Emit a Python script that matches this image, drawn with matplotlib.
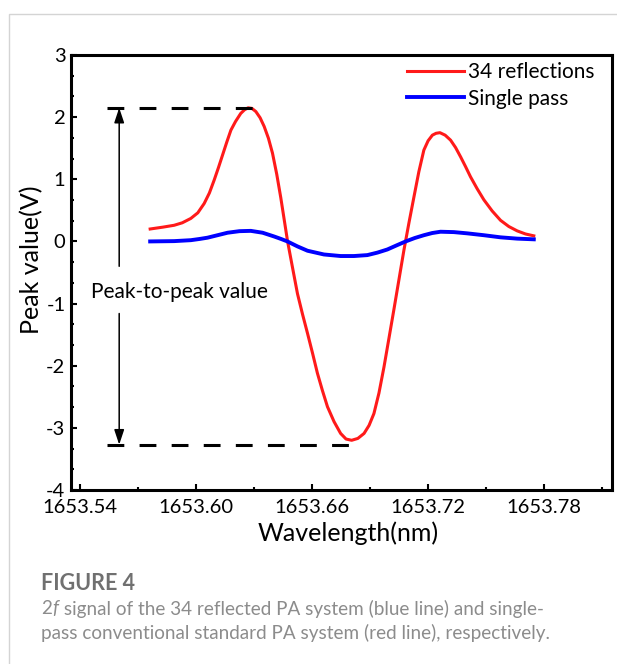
import matplotlib
matplotlib.use('Agg')
import matplotlib.pyplot as plt
from matplotlib.patches import Rectangle
from matplotlib.ticker import MultipleLocator

plt.rcParams['font.family'] = ['Lato', 'DejaVu Sans']
plt.rcParams['axes.unicode_minus'] = False

# 34 reflections (red)
red_wl = [1653.5764, 1653.5830, 1653.5888, 1653.5930, 1653.5974, 1653.6010, 1653.6043,
          1653.6070, 1653.6095, 1653.6117, 1653.6138, 1653.6160, 1653.6181, 1653.6205,
          1653.6232, 1653.6252, 1653.6270, 1653.6290, 1653.6310, 1653.6332, 1653.6353,
          1653.6375, 1653.6396, 1653.6418, 1653.6439, 1653.6456, 1653.6474, 1653.6500,
          1653.6525, 1653.6551, 1653.6577, 1653.6603, 1653.6628, 1653.6654, 1653.6680,
          1653.6714, 1653.6748, 1653.6776, 1653.6805, 1653.6837, 1653.6869, 1653.6895,
          1653.6920, 1653.6946, 1653.6972, 1653.6997, 1653.7023, 1653.7049, 1653.7075,
          1653.7101, 1653.7127, 1653.7152, 1653.7178, 1653.7200, 1653.7222, 1653.7241,
          1653.7261, 1653.7288, 1653.7316, 1653.7342, 1653.7368, 1653.7394, 1653.7419,
          1653.7453, 1653.7488, 1653.7531, 1653.7574, 1653.7617, 1653.7660, 1653.7703,
          1653.7746]
red_v = [0.20, 0.23, 0.26, 0.30, 0.37, 0.46, 0.61, 0.78, 0.99, 1.19, 1.39, 1.60, 1.79,
         1.93, 2.06, 2.12, 2.15, 2.14, 2.09, 1.99, 1.85, 1.66, 1.42, 1.08, 0.70, 0.36,
         0.0, -0.43, -0.84, -1.17, -1.48, -1.80, -2.12, -2.40, -2.66, -2.90, -3.09, -3.18,
         -3.20, -3.17, -3.09, -2.96, -2.77, -2.44, -2.02, -1.57, -1.10, -0.62, -0.14,
         0.30, 0.72, 1.12, 1.47, 1.62, 1.71, 1.74, 1.75, 1.71, 1.63, 1.51, 1.36, 1.20,
         1.04, 0.85, 0.67, 0.49, 0.34, 0.24, 0.17, 0.12, 0.09]

# single pass (blue)
blue_wl = [1653.5764, 1653.5888, 1653.5974, 1653.6020, 1653.6060, 1653.6112, 1653.6164,
           1653.6225, 1653.6284, 1653.6345, 1653.6404, 1653.6440, 1653.6473, 1653.6525,
           1653.6577, 1653.6662, 1653.6748, 1653.6817, 1653.6886, 1653.6938, 1653.6989,
           1653.7036, 1653.7084, 1653.7131, 1653.7178, 1653.7221, 1653.7264, 1653.7333,
           1653.7402, 1653.7488, 1653.7574, 1653.7660, 1653.7746]
blue_v = [0.00, 0.005, 0.02, 0.04, 0.06, 0.10, 0.14, 0.165, 0.17, 0.14, 0.08, 0.04, 0.0,
          -0.08, -0.15, -0.21, -0.235, -0.235, -0.22, -0.18, -0.13, -0.065, 0.0, 0.055,
          0.10, 0.135, 0.156, 0.15, 0.13, 0.10, 0.066, 0.045, 0.034]

pp_top = 2.15
pp_bottom = -3.27

fig = plt.figure(figsize=(6.17, 6.64), dpi=100)

# light frame around the panel
fig.patches.append(Rectangle((9 / 617, -0.1), 1.2, (664 - 14) / 664 + 0.1,
                             transform=fig.transFigure, fill=False,
                             edgecolor='#d4d4d4', lw=1.0))

ax = fig.add_axes([71 / 617, 174 / 664, 541 / 617, 435 / 664])

ax.plot(red_wl, red_v, color='#ff1a1a', lw=2.2, label='34 reflections')
ax.plot(blue_wl, blue_v, color='#0000ff', lw=2.8, label='Single pass')

# dashed guide lines and the peak-to-peak arrows
ax.plot([1653.5541, 1653.6294], [pp_top, pp_top], color='k', lw=2.2, ls=(0, (5.5, 5)))
ax.plot([1653.5541, 1653.6790], [pp_bottom, pp_bottom], color='k', lw=2.2, ls=(0, (5.5, 5)))
arr = dict(arrowstyle='-|>,head_length=0.9,head_width=0.3', color='k', lw=1.1,
           shrinkA=0, shrinkB=0)
ax.annotate('', xy=(1653.5604, pp_top), xytext=(1653.5604, -0.40), arrowprops=arr)
ax.annotate('', xy=(1653.5604, pp_bottom), xytext=(1653.5604, -1.16), arrowprops=arr)
ax.text(1653.5459, -0.81, 'Peak-to-peak value', fontsize=15, va='center', ha='left')

ax.set_xlim(1653.5355, 1653.815)
ax.set_ylim(-4, 3)
ax.set_xticks([1653.54, 1653.60, 1653.66, 1653.72, 1653.78])
ax.set_xticklabels(['1653.54', '1653.60', '1653.66', '1653.72', '1653.78'])
ax.xaxis.set_minor_locator(MultipleLocator(0.03))
ax.yaxis.set_major_locator(MultipleLocator(1))
ax.yaxis.set_minor_locator(MultipleLocator(1 / 3))
ax.tick_params(which='both', direction='in', width=1.5, labelsize=14.5, top=False, right=False)
ax.tick_params(which='major', length=4, pad=4)
ax.tick_params(axis='x', which='major', pad=6.5)
ax.tick_params(which='minor', length=2.5)
for s in ax.spines.values():
    s.set_linewidth(2.2)

ax.set_xlabel('Wavelength(nm)', fontsize=18, labelpad=4)
ax.set_ylabel('Peak value(V)', fontsize=18, labelpad=2)
ax.xaxis.label.set_x(0.512)
ax.yaxis.label.set_y(0.53)

ax.legend(loc='upper right', bbox_to_anchor=(0.99, 1.012), frameon=False, fontsize=15,
          handlelength=2.75, handletextpad=0.15, labelspacing=0.3, borderaxespad=0.2)

# caption
cap_gray = '#8c8c8c'
fig.text(41 / 617, 1 - 583 / 664, 'FIGURE 4', fontsize=15.5, color='#707070',
         fontweight='bold', va='center')
y1 = 1 - 609 / 664
r = fig.canvas.get_renderer()
inv = fig.transFigure.inverted()
x = 41 / 617
for part, style in [('2', 'normal'), ('f', 'italic'),
                    (' signal of the 34 reflected PA system (blue line) and single-', 'normal')]:
    t = fig.text(x, y1, part, fontsize=13.6, color=cap_gray, style=style, va='center')
    bb = t.get_window_extent(renderer=r)
    x = inv.transform((bb.x1, bb.y0))[0] + (0.002 if style == 'italic' else 0)
fig.text(41 / 617, 1 - 633 / 664,
         'pass conventional standard PA system (red line), respectively.',
         fontsize=13.6, color=cap_gray, va='center')

fig.savefig('out.png', dpi=100)
